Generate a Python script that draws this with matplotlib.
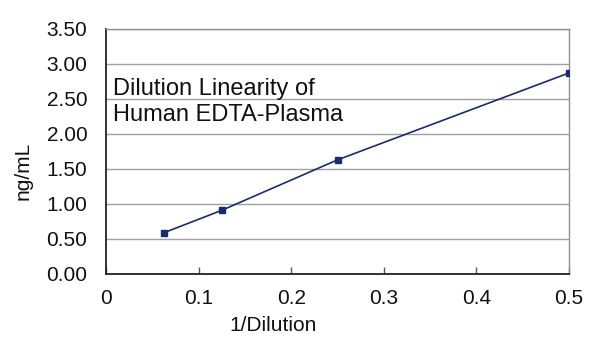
import matplotlib
matplotlib.use("Agg")
import matplotlib.pyplot as plt

plt.rcParams['font.family'] = ['Liberation Sans', 'DejaVu Sans']

inv_dilution = [0.0625, 0.125, 0.25, 0.5]
conc_ng_ml = [0.59, 0.91, 1.63, 2.87]
x_ticks = [0, 0.1, 0.2, 0.3, 0.4, 0.5]
x_tick_labels = ["0", "0.1", "0.2", "0.3", "0.4", "0.5"]
y_ticks = [0.0, 0.5, 1.0, 1.5, 2.0, 2.5, 3.0, 3.5]
y_tick_labels = ["0.00", "0.50", "1.00", "1.50", "2.00", "2.50", "3.00", "3.50"]
title_lines = ["Dilution Linearity of", "Human EDTA-Plasma"]

fig = plt.figure(figsize=(6.0, 3.57), dpi=100)
ax = fig.add_axes([0.177, 0.2325, 0.771, 0.6865])

navy = '#1c2b6b'
ax.plot(inv_dilution, conc_ng_ml, color=navy, lw=1.2, marker='s', ms=4.5,
        markerfacecolor=navy, markeredgecolor=navy, zorder=3)

ax.set_xlim(0, 0.5)
ax.set_ylim(0, 3.5)
ax.set_xticks(x_ticks)
ax.set_xticklabels(x_tick_labels)
ax.set_yticks(y_ticks)
ax.set_yticklabels(y_tick_labels)

ax.grid(axis='y', color='#a0a0a0', lw=1.0)
ax.set_axisbelow(True)

for s in ['left', 'bottom']:
    ax.spines[s].set_color('#222222')
    ax.spines[s].set_linewidth(1.3)
for s in ['top', 'right']:
    ax.spines[s].set_color('#909090')
    ax.spines[s].set_linewidth(1.0)

ax.tick_params(axis='x', direction='in', length=5, width=1, color='#555555',
               labelsize=15, pad=10.5, labelcolor='#111111')
ax.tick_params(axis='y', length=0, labelsize=15, pad=13.5, labelcolor='#111111')

ax.set_xlabel("1/Dilution", fontsize=15, color='#111111')
ax.set_ylabel("ng/mL", fontsize=15, color='#111111')
ax.xaxis.set_label_coords(0.36, -0.172)
ax.yaxis.set_label_coords(-0.16, 0.42)

ax.text(0.015, 0.731, title_lines[0], transform=ax.transAxes, fontsize=17,
        va='baseline', ha='left', color='#111111')
ax.text(0.015, 0.626, title_lines[1], transform=ax.transAxes, fontsize=17,
        va='baseline', ha='left', color='#111111')

fig.savefig("out.png", dpi=100)
